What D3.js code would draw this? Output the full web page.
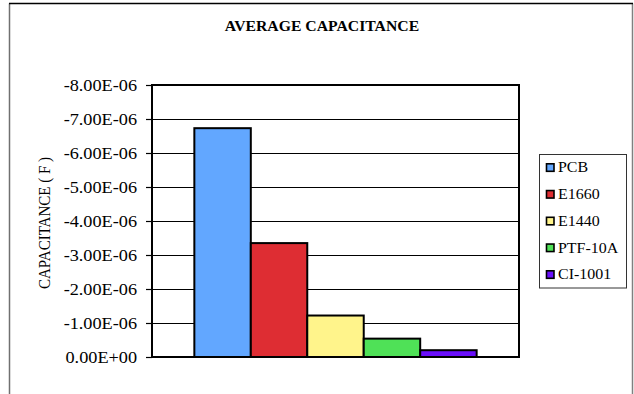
<!DOCTYPE html>
<html>
<head>
<meta charset="utf-8">
<script src="https://cdn.jsdelivr.net/npm/d3@7/dist/d3.min.js"></script>
<style>
  html, body { margin: 0; padding: 0; background: #fff; }
  svg { display: block; }
  text { font-family: "Liberation Serif", "Times New Roman", Times, serif; fill: #000; }
</style>
</head>
<body>
<svg id="chart" width="634" height="394"></svg>
<script>
// Average capacitance per material (farads, stored as negative readings)
const seriesNames = ["PCB", "E1660", "E1440", "PTF-10A", "CI-1001"];
const seriesValues = [-6.73e-6, -3.35e-6, -1.22e-6, -0.54e-6, -0.20e-6];
const seriesColors = ["#62A7FF", "#DE2D33", "#FFF48B", "#4FE157", "#6A0FFB"];
const tickValues = [0, -1e-6, -2e-6, -3e-6, -4e-6, -5e-6, -6e-6, -7e-6, -8e-6];

const chartTitle = "AVERAGE CAPACITANCE";
const yTitle = "CAPACITANCE ( F )";

const W = 634, H = 394;
const plot = { left: 152, right: 519, top: 85, bottom: 357 };
const plotW = plot.right - plot.left;
const sx = 1.14;          // wide text rendering
const gapRatio = 1.5;     // gap between category groups, relative to one bar

const svg = d3.select("#chart");

// outer chart frame
const frame = svg.append("g");
frame.append("line").attr("x1", 9.5).attr("x2", 9.5).attr("y1", 3.5).attr("y2", H + 2)
  .attr("stroke", "#707070").attr("stroke-width", 1.5);
frame.append("line").attr("x1", 632.5).attr("x2", 632.5).attr("y1", 3.5).attr("y2", H + 2)
  .attr("stroke", "#808080").attr("stroke-width", 1.5);
frame.append("line").attr("x1", 9).attr("x2", 633).attr("y1", 3.5).attr("y2", 3.5)
  .attr("stroke", "#000").attr("stroke-width", 1.5);

// scales: value axis runs in reverse so negative readings rise upward
const y = d3.scaleLinear().domain([0, -8e-6]).range([plot.bottom, plot.top]);
const barW = plotW / (seriesNames.length + gapRatio);
const x = d3.scaleBand()
  .domain(seriesNames)
  .range([plot.left + barW * gapRatio / 2, plot.right - barW * gapRatio / 2])
  .padding(0);

function sci(v) {
  if (v === 0) return "0.00E+00";
  const s = v.toExponential(2);            // e.g. -8.00e-6
  const [m, e] = s.split("e");
  const en = +e;
  return m + "E" + (en < 0 ? "-" : "+") + String(Math.abs(en)).padStart(2, "0");
}

// gridlines
const grid = svg.append("g").attr("transform", `translate(${plot.left},0)`)
  .call(d3.axisLeft(y).tickValues(tickValues).tickSize(-plotW).tickFormat(""));
grid.select(".domain").remove();
grid.selectAll("line").attr("stroke", "#000").attr("stroke-width", 1.2);

// value axis with ticks and labels
const axis = svg.append("g").attr("transform", `translate(${plot.left},0)`)
  .call(d3.axisLeft(y).tickValues(tickValues).tickSize(6).tickPadding(0).tickFormat(sci));
axis.select(".domain").remove();
axis.selectAll("line").attr("stroke", "#000").attr("stroke-width", 1.2);
axis.selectAll("text")
  .attr("x", -15 / sx)
  .attr("dy", "0.34em")
  .attr("transform", `scale(${sx},1)`)
  .style("font-family", "'Liberation Serif', 'Times New Roman', Times, serif")
  .style("font-size", "16px")
  .attr("fill", "#000");

// bars
svg.append("g").selectAll("rect")
  .data(seriesNames.map((n, i) => ({ name: n, value: seriesValues[i], color: seriesColors[i] })))
  .join("rect")
  .attr("x", d => x(d.name))
  .attr("width", x.bandwidth())
  .attr("y", d => y(d.value))
  .attr("height", d => y(0) - y(d.value))
  .attr("fill", d => d.color)
  .attr("stroke", "#000")
  .attr("stroke-width", 2);

// plot area border
svg.append("rect")
  .attr("x", plot.left).attr("y", plot.top)
  .attr("width", plotW).attr("height", plot.bottom - plot.top)
  .attr("fill", "none").attr("stroke", "#000").attr("stroke-width", 2);

// title
svg.append("text")
  .attr("transform", `translate(322,31) scale(${sx},1)`)
  .attr("text-anchor", "middle")
  .style("font-size", "13.8px")
  .style("font-weight", "bold")
  .text(chartTitle);

// value axis title
svg.append("text")
  .attr("transform", `translate(50,223) scale(${sx},1) rotate(-90)`)
  .attr("text-anchor", "middle")
  .style("font-size", "15px")
  .text(yTitle);

// legend
const legend = svg.append("g");
legend.append("rect")
  .attr("x", 539.5).attr("y", 154.5).attr("width", 87).attr("height", 133.5)
  .attr("fill", "#fff").attr("stroke", "#333").attr("stroke-width", 1);
const item = legend.selectAll("g.item")
  .data(seriesNames.map((n, i) => ({ name: n, color: seriesColors[i], i })))
  .join("g").attr("class", "item")
  .attr("transform", d => `translate(546,${167.3 + d.i * 26.75})`);
item.append("rect")
  .attr("x", 0.5).attr("y", -3.5).attr("width", 7.5).attr("height", 7.5)
  .attr("fill", d => d.color).attr("stroke", "#000").attr("stroke-width", 1.6);
item.append("text")
  .attr("transform", `translate(12,5) scale(${sx},1)`)
  .style("font-size", "14px")
  .text(d => d.name);
</script>
</body>
</html>
